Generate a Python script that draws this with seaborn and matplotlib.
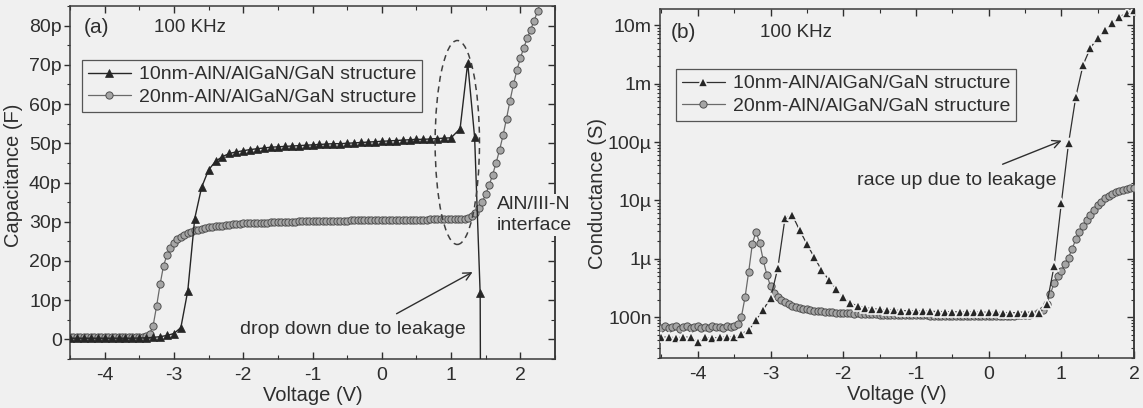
import numpy as np
import pandas as pd
import matplotlib
matplotlib.use("Agg")
import matplotlib.pyplot as plt
import seaborn as sns
from matplotlib.patches import Ellipse
from matplotlib.ticker import MultipleLocator, LogLocator, FixedLocator, NullFormatter

# ---------------- data ----------------
# (a) capacitance, pF
a_v10 = list(np.round(np.linspace(-4.5, 1.0, 56), 2)) + [1.13, 1.24, 1.34, 1.42, 1.43]
a_c10 = [0.3, 0.3, 0.3, 0.3, 0.3, 0.3, 0.3, 0.3, 0.3, 0.3,
         0.35, 0.4, 0.5, 0.7, 1.0, 1.5, 3.0, 12.4, 30.8, 38.8,
         43.2, 45.4, 46.6, 47.4, 47.8, 48.1, 48.4, 48.6, 48.8, 49.0,
         49.1, 49.2, 49.3, 49.4, 49.5, 49.6, 49.7, 49.8, 49.9, 49.9,
         50.0, 50.1, 50.2, 50.3, 50.4, 50.5, 50.6, 50.7, 50.8, 50.9,
         51.0, 51.0, 51.1, 51.2, 51.3, 51.4,
         53.7, 70.5, 51.5, 11.7, -40.0]

a_v20 = np.round(np.linspace(-4.5, 2.5, 141), 2)
a_c20 = [0.6, 0.7, 0.6, 0.6, 0.7, 0.6, 0.6, 0.6, 0.7, 0.6, 0.6, 0.7, 0.6, 0.6, 0.6, 0.7,
         0.6, 0.6, 0.7, 0.6, 0.6, 0.7, 0.8,
         1.4, 3.5, 8.5, 14.0, 18.8, 21.5, 23.3, 24.6, 25.5, 26.2, 26.7, 27.1, 27.5, 27.8,
         28.0, 28.2, 28.4, 28.6, 28.7, 28.8, 28.9, 29.0, 29.1, 29.2, 29.3, 29.4, 29.5, 29.6,
         29.6, 29.7, 29.7, 29.7, 29.8, 29.8, 29.8, 29.9, 29.9, 29.9, 29.9, 30.0, 30.0, 30.0,
         30.0, 30.1, 30.1, 30.1, 30.1, 30.2,
         30.2, 30.2, 30.2, 30.2, 30.3, 30.3, 30.3, 30.3, 30.3, 30.3, 30.4, 30.4, 30.4, 30.4,
         30.4, 30.4, 30.4, 30.4, 30.5, 30.5,
         30.5, 30.5, 30.5, 30.5, 30.5, 30.5, 30.5, 30.5, 30.5, 30.5, 30.5, 30.5, 30.5, 30.6,
         30.6, 30.6, 30.6, 30.6, 30.6, 30.6,
         30.6, 30.6, 30.7, 30.7,
         30.9, 31.4, 32.2, 33.4, 35.0, 37.0, 39.3, 42.0, 45.0, 48.3, 52.0, 56.3, 60.8, 65.0,
         68.6, 71.7, 74.4, 76.8, 79.0, 81.3, 83.8, 86.4, 89.0, 91.5, 94.0, 96.5]

# (b) conductance, nS
b_v10 = np.round(np.linspace(-4.5, 2.0, 66), 2)
b_g10_nS = [45, 46, 44, 46, 45, 38, 45, 44, 45, 46, 45,
            52, 60, 90, 135, 210, 690, 5000, 5600, 3100, 1800, 1070, 650, 440, 310, 220,
            175, 155, 145, 140, 136, 134, 132, 130, 129, 128, 127, 126, 125, 125, 124, 123,
            123, 122, 122, 121, 121, 120, 120, 119, 119, 118, 117,
            165, 740, 8900, 96000, 600000, 2100000, 4100000, 6000000, 8400000, 11000000,
            14000000, 16000000, 18000000]

b_v20 = np.round(np.linspace(-4.5, 2.0, 131), 2)
b_g20_nS = [65, 70, 66, 69, 72, 64, 68, 70, 66, 69, 71, 65, 68, 66, 70, 67, 69, 65, 70, 68, 72, 75,
            102, 220, 600, 1800, 2900, 1900, 950, 530, 340, 260, 220, 195, 180, 168, 158, 150,
            144, 140, 136, 133, 130, 128, 126, 124, 123, 122, 120, 119, 118,
            117, 116, 115, 116, 114, 113, 113, 112, 112, 111, 111, 110, 110, 109, 109, 109, 108,
            108, 108, 108, 107, 107, 107, 106, 106, 106, 106, 105, 105, 105, 105, 105, 104, 104,
            104, 104, 104, 104, 104, 104, 104, 104, 105, 105, 105, 106, 106, 107, 108, 109, 110, 112,
            115, 122, 135, 165, 250, 380, 500, 630, 800, 1050, 1500, 2150, 2900, 3700, 4600, 5600,
            6900, 8200, 9500, 10800, 11800, 12800, 13800, 14600, 15300, 15900, 16300, 16600]

series_labels = ["10nm-AlN/AlGaN/GaN structure", "20nm-AlN/AlGaN/GaN structure"]
x_ticks = [-4, -3, -2, -1, 0, 1, 2]
x_ticklabels = ["-4", "-3", "-2", "-1", "0", "1", "2"]
a_yticks = [0, 10, 20, 30, 40, 50, 60, 70, 80]
a_yticklabels = ["0", "10p", "20p", "30p", "40p", "50p", "60p", "70p", "80p"]
b_yticks = [1e-7, 1e-6, 1e-5, 1e-4, 1e-3, 1e-2]
b_yticklabels = ["100n", "1\u00b5", "10\u00b5", "100\u00b5", "1m", "10m"]

# ---------------- style ----------------
BG = "#f0f0f0"
INK = "#2e2e2e"
sns.set_theme(style="ticks")
plt.rcParams.update({
    "font.family": ["Liberation Sans", "DejaVu Sans"],
    "font.size": 14,
    "text.color": INK, "axes.labelcolor": INK,
    "xtick.color": INK, "ytick.color": INK,
    "axes.edgecolor": "#3a3a3a", "axes.linewidth": 1.1,
    "axes.facecolor": BG, "figure.facecolor": BG,
})

fig = plt.figure(figsize=(11.43, 4.08), dpi=100)
axa = fig.add_axes([70 / 1143, 1 - 359 / 408, 485 / 1143, 353 / 408])
axb = fig.add_axes([660 / 1143, 1 - 358 / 408, 474 / 1143, 349 / 408])

dfa10 = pd.DataFrame({"V": a_v10, "C": a_c10})
dfa20 = pd.DataFrame({"V": a_v20, "C": a_c20})
dfb10 = pd.DataFrame({"V": b_v10, "G": np.array(b_g10_nS, dtype=float) * 1e-9})
dfb20 = pd.DataFrame({"V": b_v20, "G": np.array(b_g20_nS, dtype=float) * 1e-9})

# ---- panel (a)
sns.lineplot(data=dfa20, x="V", y="C", ax=axa, sort=False, estimator=None,
             color="#6a6a6a", linewidth=0.9, marker="o", markersize=5.2,
             markerfacecolor="#a5a5a5", markeredgecolor="#505050", markeredgewidth=0.7,
             label=series_labels[1], zorder=3)
sns.lineplot(data=dfa10, x="V", y="C", ax=axa, sort=False, estimator=None,
             color="#262626", linewidth=1.0, marker="^", markersize=6,
             markerfacecolor="#262626", markeredgecolor="#262626", markeredgewidth=0.5,
             label=series_labels[0], zorder=4)

# ---- panel (b)
sns.lineplot(data=dfb20, x="V", y="G", ax=axb, sort=False, estimator=None,
             color="#6a6a6a", linewidth=0.9, marker="o", markersize=5.2,
             markerfacecolor="#a5a5a5", markeredgecolor="#505050", markeredgewidth=0.7,
             label=series_labels[1], zorder=3)
sns.lineplot(data=dfb10, x="V", y="G", ax=axb, sort=False, estimator=None,
             color="#303030", linewidth=0.9, marker="^", markersize=7,
             markerfacecolor="#262626", markeredgecolor=BG, markeredgewidth=1.2,
             label=series_labels[0], zorder=4)
axb.set_yscale("log")

# ---- axes formatting
for ax in (axa, axb):
    ax.set_xticks(x_ticks)
    ax.set_xticklabels(x_ticklabels)
    ax.xaxis.set_minor_locator(MultipleLocator(0.5))
    ax.tick_params(axis="x", which="both", direction="in", top=True, bottom=True, pad=5.5, labelsize=14)
    ax.tick_params(axis="x", which="major", length=5, width=1)
    ax.tick_params(axis="x", which="minor", length=3, width=0.8)
    ax.tick_params(axis="y", which="both", direction="out", left=True, right=False, labelsize=14, pad=2)
    ax.tick_params(axis="y", which="major", length=4, width=1)
    ax.tick_params(axis="y", which="minor", length=2.5, width=0.8)
    for s in ax.spines.values():
        s.set_visible(True)
        s.set_color("#3a3a3a")

axa.set_xlim(-4.5, 2.5)
axa.set_ylim(-5, 85)
axa.set_yticks(a_yticks)
axa.set_yticklabels(a_yticklabels)
axa.yaxis.set_minor_locator(MultipleLocator(5))

axb.set_xlim(-4.52, 2.0)
axb.set_ylim(2e-8, 1.9e-2)
axb.yaxis.set_major_locator(FixedLocator(b_yticks))
axb.set_yticklabels(b_yticklabels)
axb.yaxis.set_minor_locator(LogLocator(base=10, subs=np.arange(2, 10)))
axb.yaxis.set_minor_formatter(NullFormatter())

# right-side inward ticks
seca = axa.secondary_yaxis("right")
seca.set_yticks(a_yticks)
seca.yaxis.set_minor_locator(MultipleLocator(5))
seca.tick_params(which="both", direction="in", labelright=False, colors=INK)
seca.tick_params(which="major", length=5, width=1)
seca.tick_params(which="minor", length=3, width=0.8)

secb = axb.secondary_yaxis("right")
secb.yaxis.set_major_locator(FixedLocator(b_yticks))
secb.yaxis.set_minor_locator(LogLocator(base=10, subs=np.arange(2, 10)))
secb.tick_params(which="both", direction="in", labelright=False, colors=INK)
secb.tick_params(which="major", length=5, width=1)
secb.tick_params(which="minor", length=2.5, width=0.8)

axa.set_xlabel("Voltage (V)", fontsize=14.5, labelpad=1.5)
axb.set_xlabel("Voltage (V)", fontsize=14.5, labelpad=1.5)
axa.set_ylabel("Capacitance (F)", fontsize=14.5)
axb.set_ylabel("Conductance (S)", fontsize=14.5)
axa.yaxis.set_label_coords(-0.097, 0.52)
axb.yaxis.set_label_coords(-0.112, 0.47)

# legends
for ax, anchor in ((axa, (0.025, 0.847)), (axb, (0.034, 0.828))):
    h, l = ax.get_legend_handles_labels()
    order = [l.index(series_labels[0]), l.index(series_labels[1])]
    leg = ax.legend([h[i] for i in order], [l[i] for i in order], loc="upper left",
                    bbox_to_anchor=anchor, borderaxespad=0, fontsize=14,
                    frameon=True, fancybox=False, framealpha=1, facecolor=BG,
                    edgecolor="#555555", handlelength=2.2, handletextpad=0.4,
                    labelspacing=0.25, borderpad=0.3)
    leg.get_frame().set_linewidth(0.9)

# texts
axa.text(0.029, 0.938, "(a)", transform=axa.transAxes, fontsize=15, va="center", ha="left")
axa.text(0.173, 0.938, "100 KHz", transform=axa.transAxes, fontsize=13.5, va="center", ha="left")
axb.text(0.023, 0.934, "(b)", transform=axb.transAxes, fontsize=15, va="center", ha="left")
axb.text(0.211, 0.934, "100 KHz", transform=axb.transAxes, fontsize=13.5, va="center", ha="left")

# annotations panel (a)
axa.add_patch(Ellipse((1.09, 50.2), width=0.64, height=52, fill=False,
                      linestyle=(0, (4, 3)), edgecolor="#404040", linewidth=1.1, zorder=5))
axa.text(1.657, 31.7, "AlN/III-N\ninterface", fontsize=14, ha="left", va="center",
         linespacing=1.25, zorder=20, clip_on=False,
         bbox=dict(facecolor=BG, edgecolor="none", pad=2))
axa.text(-2.04, 2.5, "drop down due to leakage", fontsize=14, ha="left", va="center")
axa.annotate("", xy=(1.345, 17.5), xytext=(0.178, 6.2),
             arrowprops=dict(arrowstyle="->", color=INK, lw=1.0))

# annotations panel (b)
axb.text(-1.81, 2.2e-5, "race up due to leakage", fontsize=14, ha="left", va="center")
axb.annotate("", xy=(1.04, 1.1e-4), xytext=(0.157, 4e-5),
             arrowprops=dict(arrowstyle="->", color=INK, lw=1.0))

fig.savefig("out.png", dpi=100, facecolor=BG)
